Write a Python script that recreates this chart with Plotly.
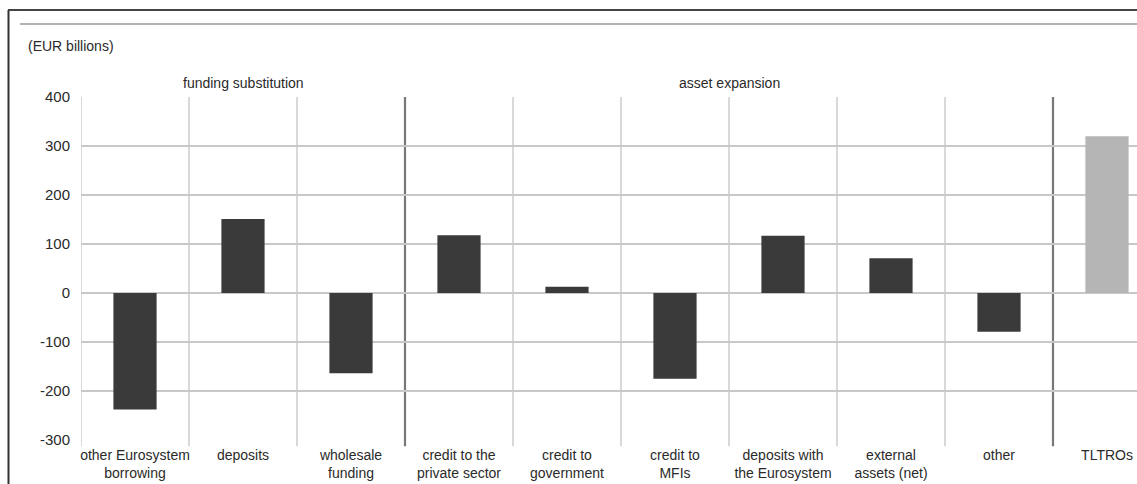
import plotly.graph_objects as go

categories = ["other Eurosystem<br>borrowing", "deposits", "wholesale<br>funding",
              "credit to the<br>private sector", "credit to<br>government", "credit to<br>MFIs",
              "deposits with<br>the Eurosystem", "external<br>assets (net)", "other", "TLTROs"]
values = [-238, 151, -164, 118, 13, -175, 117, 71, -79, 320]
bar_colors = ["#3a3a3a"] * 9 + ["#b5b5b5"]
y_ticks = [-300, -200, -100, 0, 100, 200, 300, 400]
y_tick_labels = ["-300", "-200", "-100", "0", "100", "200", "300", "400"]
group_labels = ["funding substitution", "asset expansion"]
group_centers = [1, 5.5]

W, H = 1137, 484
L, T, R, B = 81, 97, 0, 44
pw, ph = W - L - R, H - T - B

def px(x):
    return (x - L) / pw

def py(y):
    return (H - B - y) / ph

xs = list(range(len(categories)))
fig = go.Figure(go.Bar(x=xs, y=values, marker=dict(color=bar_colors, line=dict(width=0)),
                       width=0.4, showlegend=False))

font = "Liberation Sans, Arial, sans-serif"
tc = "#2a2a2a"
shapes = []
for k in range(-1, len(categories)):
    xv = k + 0.5
    thick = k in (2, 8)
    shapes.append(dict(type="line", xref="x", yref="paper", x0=xv, x1=xv, y0=-0.018, y1=1,
                       line=dict(color="#777777" if thick else "#c4c4c4", width=2.2 if thick else 1.3),
                       layer="below"))
# frame lines
shapes.append(dict(type="line", xref="paper", yref="paper", x0=px(8), x1=px(1137), y0=py(10), y1=py(10),
                   line=dict(color="#444444", width=2)))
shapes.append(dict(type="line", xref="paper", yref="paper", x0=px(8.5), x1=px(8.5), y0=py(10), y1=py(484),
                   line=dict(color="#333333", width=2)))
shapes.append(dict(type="line", xref="paper", yref="paper", x0=px(20), x1=px(1137), y0=py(24), y1=py(24),
                   line=dict(color="#9a9a9a", width=1.5)))

annotations = [dict(text="(EUR billions)", xref="paper", yref="paper", x=px(26), y=py(46),
                    xanchor="left", yanchor="middle", showarrow=False,
                    font=dict(family=font, size=14, color=tc))]
for lab, c in zip(group_labels, group_centers):
    annotations.append(dict(text=lab, xref="x", yref="paper", x=c, y=py(83),
                            xanchor="center", yanchor="middle", showarrow=False,
                            font=dict(family=font, size=14, color=tc)))

fig.update_layout(
    width=W, height=H, margin=dict(l=L, r=R, t=T, b=B, pad=0),
    paper_bgcolor="white", plot_bgcolor="white",
    shapes=shapes, annotations=annotations,
    font=dict(family=font, size=14, color=tc),
    xaxis=dict(range=[-0.5, -0.5 + pw / 108.0], tickmode="array", tickvals=xs, ticktext=categories,
               showgrid=False, zeroline=False, showline=False, ticks="", ticklen=0,
               ticklabelstandoff=5,
               tickfont=dict(family=font, size=14, color=tc), fixedrange=True),
    yaxis=dict(range=[-300, 400], tickmode="array", tickvals=y_ticks, ticktext=y_tick_labels,
               showgrid=True, gridcolor="#c8c8c8", gridwidth=1.5, zeroline=False,
               showline=False, ticks="", ticklabelstandoff=10,
               tickfont=dict(family=font, size=15, color=tc), fixedrange=True),
)
fig.write_html("out.html", config={"displayModeBar": False},
               post_script="document.body.style.margin='0';document.body.style.overflow='hidden';")
